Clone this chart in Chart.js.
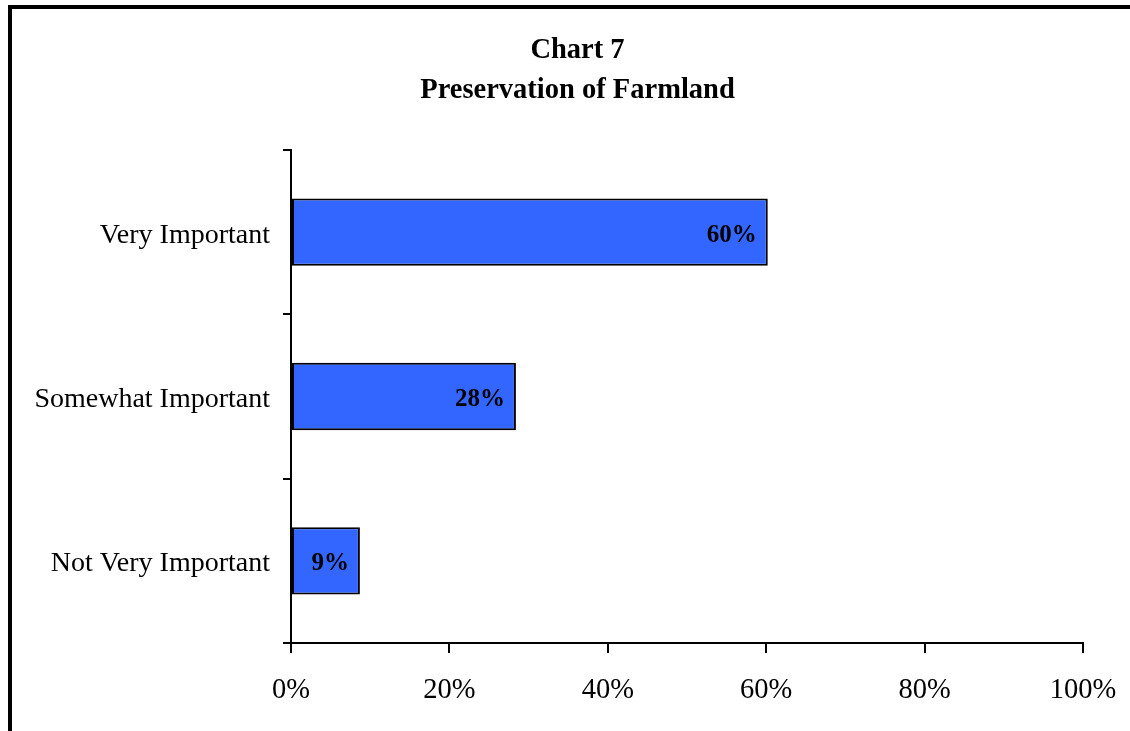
<!DOCTYPE html>
<html>
<head>
<meta charset="utf-8">
<script src="https://cdn.jsdelivr.net/npm/chart.js@4/dist/chart.umd.min.js"></script>
<style>
  html, body { margin: 0; padding: 0; background: #fff; }
  canvas { display: block; }
</style>
</head>
<body>
<canvas id="c" width="1130" height="731"></canvas>
<script>
const categories = ['Very Important', 'Somewhat Important', 'Not Very Important'];
const values = [60.2, 28.4, 8.7];
const valueLabels = ['60%', '28%', '9%'];
const xTicks = [0, 20, 40, 60, 80, 100];
const titleLines = ['Chart 7', 'Preservation of Farmland'];

const FONT = "'Liberation Serif', 'Times New Roman', serif";

const framePlugin = {
  id: 'frame',
  afterLayout(chart) {
    if (chart.titleBlock) {
      chart.titleBlock.left = 72;
      chart.titleBlock.right = 1083;
    }
  },
  beforeDraw(chart) {
    const ctx = chart.ctx;
    ctx.save();
    ctx.fillStyle = '#fff';
    ctx.fillRect(0, 0, chart.width, chart.height);
    ctx.strokeStyle = '#000';
    ctx.lineWidth = 4;
    ctx.strokeRect(10, 7, 2000, 2000);
    ctx.restore();
  }
};

const labelPlugin = {
  id: 'barLabels',
  afterDatasetsDraw(chart) {
    const ctx = chart.ctx;
    const meta = chart.getDatasetMeta(0);
    ctx.save();
    ctx.font = "bold 25px " + FONT;
    ctx.fillStyle = '#000';
    ctx.textAlign = 'right';
    ctx.textBaseline = 'middle';
    meta.data.forEach((bar, i) => {
      ctx.fillText(valueLabels[i], bar.x - 11, bar.y + 3);
    });
    ctx.restore();
  }
};

new Chart(document.getElementById('c'), {
  type: 'bar',
  data: {
    labels: categories,
    datasets: [{
      data: values,
      backgroundColor: '#3366FF',
      borderColor: '#000',
      borderWidth: 2,
      borderSkipped: false,
      barPercentage: 0.41,
      categoryPercentage: 1.0
    }]
  },
  options: {
    indexAxis: 'y',
    responsive: false,
    animation: false,
    layout: { padding: { left: 0, right: 47, top: 0, bottom: 0 } },
    plugins: {
      legend: { display: false },
      tooltip: { enabled: false },
      title: {
        display: true,
        text: titleLines,
        color: '#000',
        font: { family: FONT, size: 28.5, weight: 'bold', lineHeight: 40 / 28.5 },
        padding: { top: 31, bottom: 39 }
      }
    },
    scales: {
      x: {
        min: 0,
        max: 100,
        afterFit(scale) { scale.height = 88; scale.paddingLeft = 0; scale.paddingRight = 0; },
        afterBuildTicks(scale) { scale.ticks = xTicks.map(v => ({ value: v })); },
        ticks: {
          color: '#000',
          font: { family: FONT, size: 28.5 },
          padding: 20,
          maxRotation: 0,
          callback: v => v + '%'
        },
        grid: { drawOnChartArea: false, drawTicks: true, tickLength: 10, color: '#000', lineWidth: 2 },
        border: { display: true, color: '#000', width: 2 }
      },
      y: {
        afterFit(scale) { scale.width = 291; },
        ticks: {
          color: '#000',
          font: { family: FONT, size: 28 },
          padding: 13,
          labelOffset: 3
        },
        grid: { drawOnChartArea: false, drawTicks: true, tickLength: 8, color: '#000', lineWidth: 2, offset: true },
        border: { display: true, color: '#000', width: 2 }
      }
    }
  },
  plugins: [framePlugin, labelPlugin]
});
</script>
</body>
</html>
